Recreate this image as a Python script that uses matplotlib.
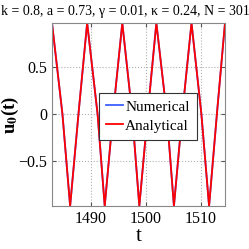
import matplotlib
matplotlib.use("Agg")
import matplotlib.pyplot as plt

# vertices
t_vals = [1482.9, 1484.8, 1486.2, 1487.8, 1489.3, 1491.2, 1492.5, 1494.1, 1495.7,
          1497.5, 1498.8, 1500.4, 1501.9, 1503.8, 1505.1, 1506.7, 1508.3,
          1510.1, 1511.5, 1513.0, 1514.4]
u_vals = [0.96, 0.0, -0.97, 0.05, 0.96, 0.0, -0.97, 0.05, 0.96,
          0.0, -0.97, 0.05, 0.96, 0.0, -0.97, 0.05, 0.96,
          0.0, -0.97, 0.05, 0.96]
x_ticks = [1490, 1500, 1510]
y_ticks = [-0.5, 0, 0.5]
title = "k = 0.8, a = 0.73, \u03b3 = 0.01, \u03ba = 0.24, N = 301"

plt.rcParams['font.family'] = ['Liberation Serif', 'DejaVu Serif']
plt.rcParams['mathtext.fontset'] = 'stix'

fig = plt.figure(figsize=(2.49, 2.49), dpi=100)
ax = fig.add_axes([52/249, 1-206/249, 173/249, 183/249])
ax.plot(t_vals, u_vals, color='#3a5fff', lw=1.3, label='Numerical')
ax.plot(t_vals, u_vals, color='#ff0000', lw=1.3, label='Analytical')
ax.set_xlim(1482.9, 1514.4)
ax.set_ylim(-0.97, 0.96)
ax.set_xticks(x_ticks)
ax.set_xticklabels([str(v) for v in x_ticks])
ax.set_yticks(y_ticks)
ax.set_yticklabels(['\u22120.5', '0', '0.5'])
ax.tick_params(direction='in', length=3, labelsize=11.5, top=True, right=True, color='#555555')
ax.grid(True, ls=':', color='#b0b0b0', lw=0.8)
for s in ax.spines.values():
    s.set_color('#888888')
ax.set_xlabel('t', fontsize=15, labelpad=0)
ax.set_ylabel('u$_\\mathbf{0}$(t)', fontsize=13.5, fontweight='bold')
ax.yaxis.set_label_coords(-(52 - 21) / 173, 0.5)
fig.text(125/249, 1-12/249, title, fontsize=10, ha='center', va='center')
leg = ax.legend(loc='center', bbox_to_anchor=(0.555, 0.49), fontsize=11,
                fancybox=False, framealpha=1, edgecolor='#333333',
                handlelength=1.1, handletextpad=0.15, borderpad=0.45,
                labelspacing=0.35, borderaxespad=0)
leg.get_frame().set_linewidth(0.8)
fig.savefig('out.png', dpi=100)
